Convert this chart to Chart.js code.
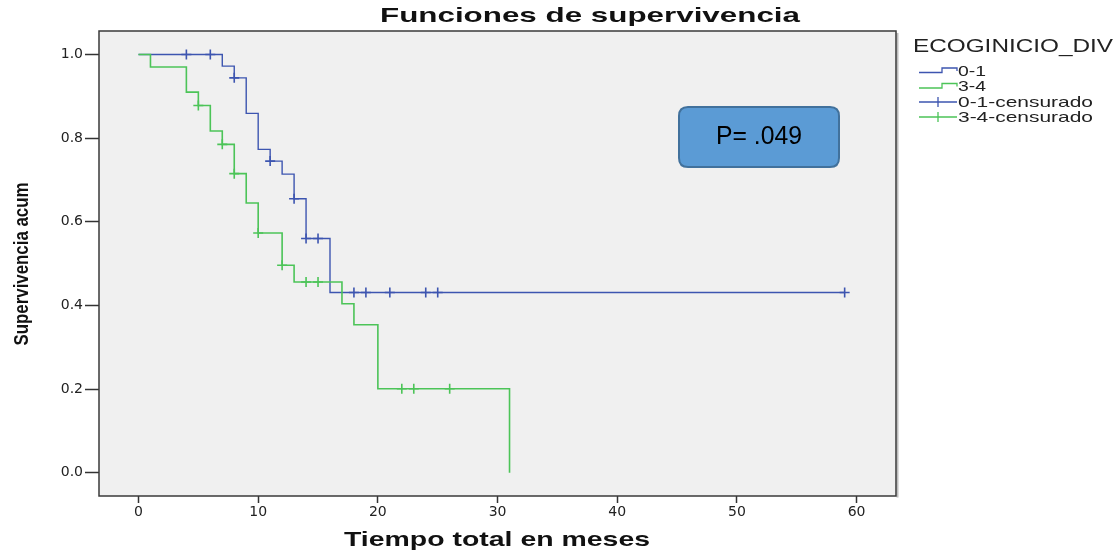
<!DOCTYPE html>
<html>
<head>
<meta charset="utf-8">
<script src="https://cdn.jsdelivr.net/npm/chart.js@4.4.1/dist/chart.umd.min.js"></script>
<style>
  html, body { margin: 0; padding: 0; background: #ffffff; }
  #wrap { width: 1119px; height: 550px; }
</style>
</head>
<body>
<div id="wrap"><canvas id="c" width="1119" height="550"></canvas></div>
<script>
// ---- Data ----
const xTicks = [0, 10, 20, 30, 40, 50, 60];
const yTicks = [0.0, 0.2, 0.4, 0.6, 0.8, 1.0];

const blueTimes = [0, 7, 8, 9, 10, 11, 12, 13, 14, 16, 59];
const blueSurv  = [1.0, 0.972, 0.944, 0.859, 0.773, 0.745, 0.714, 0.655, 0.560, 0.431, 0.431];
const blueCensT = [4, 6, 8, 11, 13, 14, 15, 18, 19, 21, 24, 25, 59];
const blueCensS = [1.0, 1.0, 0.944, 0.745, 0.655, 0.560, 0.560, 0.431, 0.431, 0.431, 0.431, 0.431, 0.431];

const greenTimes = [0, 1, 4, 5, 6, 7, 8, 9, 10, 12, 13, 17, 18, 20, 31];
const greenSurv  = [1.0, 0.970, 0.910, 0.878, 0.817, 0.785, 0.715, 0.645, 0.573, 0.496, 0.456, 0.404, 0.354, 0.201, 0.0];
const greenCensT = [5, 7, 8, 10, 12, 14, 15, 22, 23, 26];
const greenCensS = [0.878, 0.785, 0.715, 0.573, 0.496, 0.456, 0.456, 0.201, 0.201, 0.201];

const legendTitle = 'ECOGINICIO_DIV';
const legendLabels = ['0-1', '3-4', '0-1-censurado', '3-4-censurado'];
const chartTitle = 'Funciones de supervivencia';
const xTitle = 'Tiempo total en meses';
const yTitle = 'Supervivencia acum';
const pText = 'P= .049';

const BLUE = '#3d55b0';
const GREEN = '#4cc458';

const zip = (xs, ys) => xs.map((x, i) => ({ x: x, y: ys[i] }));

// ---- helpers ----
function stretchText(ctx, text, cx, cy, font, targetW, color, rotate) {
  ctx.save();
  ctx.font = font;
  ctx.fillStyle = color;
  ctx.textAlign = 'center';
  ctx.textBaseline = 'middle';
  const w = ctx.measureText(text).width;
  ctx.translate(cx, cy);
  if (rotate) ctx.rotate(-Math.PI / 2);
  ctx.scale(targetW / w, 1);
  ctx.fillText(text, 0, 0);
  ctx.restore();
}
function leftText(ctx, text, x, cy, font, targetW, color) {
  ctx.save();
  ctx.font = font;
  ctx.fillStyle = color;
  ctx.textAlign = 'left';
  ctx.textBaseline = 'middle';
  const w = ctx.measureText(text).width;
  ctx.translate(x, cy);
  ctx.scale(targetW / w, 1);
  ctx.fillText(text, 0, 0);
  ctx.restore();
}

const decor = {
  id: 'decor',
  beforeDraw(chart) {
    const ctx = chart.ctx;
    const a = chart.chartArea;
    ctx.save();
    ctx.fillStyle = '#ffffff';
    ctx.fillRect(0, 0, chart.width, chart.height);
    ctx.fillStyle = '#f0f0f0';
    ctx.fillRect(a.left, a.top, a.right - a.left, a.bottom - a.top);
    ctx.restore();
  },
  afterDraw(chart) {
    const ctx = chart.ctx;
    const a = chart.chartArea;
    ctx.save();
    // frame
    ctx.strokeStyle = '#bdbdbd';
    ctx.lineWidth = 2;
    ctx.beginPath();
    ctx.moveTo(a.right + 1.5, a.top + 2);
    ctx.lineTo(a.right + 1.5, a.bottom + 1.5);
    ctx.stroke();
    ctx.strokeStyle = '#3a3a3a';
    ctx.lineWidth = 1.5;
    ctx.strokeRect(a.left, a.top, a.right - a.left, a.bottom - a.top);

    // titles
    stretchText(ctx, chartTitle, 590, 16, 'bold 21px "Liberation Sans", Arial, sans-serif', 420, '#111');
    stretchText(ctx, xTitle, 497, 540, 'bold 21px "Liberation Sans", Arial, sans-serif', 306, '#111');
    stretchText(ctx, yTitle, 22, 264, 'bold 20px "Liberation Sans", Arial, sans-serif', 163, '#111', true);

    // legend
    leftText(ctx, legendTitle, 913, 47, '18px "Liberation Sans", Arial, sans-serif', 200, '#222');
    const rows = [71, 86.5, 102, 117];
    const cols = [BLUE, GREEN, BLUE, GREEN];
    const widths = [28, 28, 135, 135];
    for (let i = 0; i < 4; i++) {
      const y = rows[i];
      ctx.strokeStyle = cols[i];
      ctx.lineWidth = 1.3;
      ctx.beginPath();
      if (i < 2) {
        ctx.moveTo(919, y + 1.5);
        ctx.lineTo(942, y + 1.5);
        ctx.lineTo(942, y - 3);
        ctx.lineTo(957, y - 3);
        ctx.lineTo(957, y);
      } else {
        ctx.moveTo(919, y);
        ctx.lineTo(957, y);
        ctx.moveTo(938, y - 5);
        ctx.lineTo(938, y + 5);
      }
      ctx.stroke();
      leftText(ctx, legendLabels[i], 958, y + 0.5, '15px "Liberation Sans", Arial, sans-serif', widths[i], '#222');
    }

    // P-value box
    const bx = 679, by = 107, bw = 160, bh = 60, r = 9;
    ctx.beginPath();
    ctx.moveTo(bx + r, by);
    ctx.lineTo(bx + bw - r, by);
    ctx.quadraticCurveTo(bx + bw, by, bx + bw, by + r);
    ctx.lineTo(bx + bw, by + bh - r);
    ctx.quadraticCurveTo(bx + bw, by + bh, bx + bw - r, by + bh);
    ctx.lineTo(bx + r, by + bh);
    ctx.quadraticCurveTo(bx, by + bh, bx, by + bh - r);
    ctx.lineTo(bx, by + r);
    ctx.quadraticCurveTo(bx, by, bx + r, by);
    ctx.closePath();
    ctx.fillStyle = '#5b9bd5';
    ctx.fill();
    ctx.strokeStyle = '#41719c';
    ctx.lineWidth = 2;
    ctx.stroke();
    stretchText(ctx, pText, 759, 137, '25px "Liberation Sans", Arial, sans-serif', 86, '#000');
    ctx.restore();
  }
};

const ctx = document.getElementById('c').getContext('2d');
new Chart(ctx, {
  type: 'scatter',
  data: {
    datasets: [
      { label: '3-4', data: zip(greenTimes, greenSurv), showLine: true, stepped: 'before',
        borderColor: GREEN, borderWidth: 1.6, pointRadius: 0, fill: false, order: 1 },
      { label: '0-1', data: zip(blueTimes, blueSurv), showLine: true, stepped: 'before',
        borderColor: BLUE, borderWidth: 1.4, pointRadius: 0, fill: false, order: 2 },
      { label: '3-4-censurado', data: zip(greenCensT, greenCensS), showLine: false,
        pointStyle: 'cross', pointRadius: 5, borderColor: GREEN, backgroundColor: GREEN, pointBorderWidth: 1.6, order: 0 },
      { label: '0-1-censurado', data: zip(blueCensT, blueCensS), showLine: false,
        pointStyle: 'cross', pointRadius: 5, borderColor: BLUE, backgroundColor: BLUE, pointBorderWidth: 1.6, order: 0 }
    ]
  },
  options: {
    responsive: false,
    animation: false,
    devicePixelRatio: 1,
    layout: { padding: { top: 31, right: 223, bottom: 0, left: 0 } },
    plugins: { legend: { display: false }, title: { display: false }, tooltip: { enabled: false } },
    scales: {
      x: {
        type: 'linear',
        min: -3.3, max: 63.29,
        afterBuildTicks: s => { s.ticks = xTicks.map(v => ({ value: v })); },
        afterFit: s => { s.height = 54; },
        border: { display: false },
        grid: { drawOnChartArea: false, drawTicks: true, tickLength: 7, tickColor: '#333', tickWidth: 1.5 },
        ticks: { color: '#222', padding: 1, maxRotation: 0, autoSkip: false,
                 font: { family: '"DejaVu Sans", sans-serif', size: 14 },
                 callback: v => String(v) }
      },
      y: {
        type: 'linear',
        min: -0.0555, max: 1.056,
        afterBuildTicks: s => { s.ticks = yTicks.map(v => ({ value: v })); },
        afterFit: s => { s.width = 99; },
        border: { display: false },
        grid: { drawOnChartArea: false, drawTicks: true, tickLength: 14, tickColor: '#333', tickWidth: 1.5 },
        ticks: { color: '#222', padding: 2, autoSkip: false,
                 font: { family: '"DejaVu Sans", sans-serif', size: 14 },
                 callback: v => Number(v).toFixed(1) }
      }
    }
  },
  plugins: [decor]
});
</script>
</body>
</html>
